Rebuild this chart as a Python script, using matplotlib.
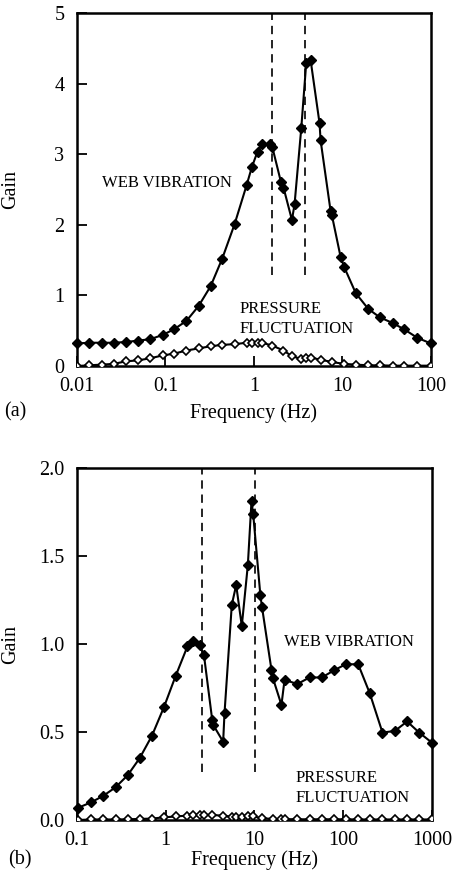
import matplotlib.pyplot as plt
import numpy as np

plt.rcParams['font.family'] = ['Liberation Serif', 'DejaVu Serif']

# ---- panel (a) data ----
freq_a = [0.01, 0.0137, 0.019, 0.026, 0.0355, 0.0489, 0.0674, 0.0929, 0.125,
          0.173, 0.237, 0.324, 0.438, 0.605, 0.826, 0.949, 1.10, 1.24, 1.54,
          1.61, 2.02, 2.16, 2.69, 2.88, 3.43, 3.90, 4.37, 5.52, 5.67, 7.35,
          7.60, 9.53, 10.5, 14.2, 19.6, 26.5, 36.9, 50.0, 70.2, 100]
web_a = [0.32, 0.33, 0.33, 0.33, 0.34, 0.36, 0.38, 0.44, 0.52,
         0.64, 0.85, 1.13, 1.52, 2.01, 2.56, 2.82, 3.04, 3.14, 3.14,
         3.11, 2.61, 2.53, 2.07, 2.29, 3.37, 4.29, 4.34, 3.44, 3.20, 2.20,
         2.14, 1.55, 1.40, 1.03, 0.81, 0.69, 0.61, 0.52, 0.40, 0.32]
freq_pa = [0.01, 0.0137, 0.019, 0.026, 0.0355, 0.0489, 0.0674, 0.0929, 0.125,
           0.173, 0.237, 0.324, 0.438, 0.605, 0.826, 0.949, 1.10, 1.24, 1.61,
           2.16, 2.69, 3.43, 3.90, 4.37, 5.67, 7.60, 10.5, 14.2, 19.6, 26.5,
           36.9, 50.0, 70.2, 100]
press_a = [0.0, 0.01, 0.02, 0.03, 0.066, 0.08, 0.11, 0.15, 0.175,
           0.22, 0.25, 0.28, 0.30, 0.31, 0.33, 0.33, 0.33, 0.33, 0.29,
           0.22, 0.14, 0.10, 0.11, 0.12, 0.09, 0.057, 0.03, 0.02, 0.01, 0.01,
           0.005, 0.005, 0.005, 0.005]
dash_a = [1.60, 3.74]

# ---- panel (b) data ----
freq_b = [0.104, 0.144, 0.198, 0.273, 0.373, 0.508, 0.700, 0.955, 1.30, 1.76,
          2.05, 2.43, 2.70, 3.35, 3.44, 4.45, 4.61, 5.57, 6.24, 7.22, 8.45,
          9.29, 9.70, 11.7, 12.2, 15.6, 16.2, 20.2, 21.9, 30.6, 41.9, 57.7,
          78.7, 107, 148, 200, 278, 383, 527, 720, 1000]
web_b = [0.07, 0.10, 0.137, 0.186, 0.254, 0.35, 0.478, 0.64, 0.82, 0.986,
         1.02, 0.993, 0.94, 0.569, 0.54, 0.445, 0.607, 1.223, 1.335, 1.103, 1.45,
         1.814, 1.74, 1.276, 1.21, 0.853, 0.806, 0.654, 0.796, 0.773, 0.81, 0.81,
         0.85, 0.885, 0.885, 0.72, 0.497, 0.506, 0.56, 0.497, 0.44]
freq_pb = [0.104, 0.144, 0.198, 0.273, 0.373, 0.508, 0.700, 0.955, 1.30, 1.76,
           2.05, 2.43, 2.70, 3.35, 4.45, 5.57, 6.24, 7.22, 8.45, 9.70, 12.2,
           16.2, 20.2, 21.9, 30.6, 41.9, 57.7, 78.7, 107, 148, 200, 278, 383,
           527, 720, 1000]
press_b = [0.0, 0.003, 0.003, 0.003, 0.004, 0.006, 0.008, 0.015, 0.02, 0.025,
           0.028, 0.03, 0.03, 0.028, 0.025, 0.018, 0.015, 0.018, 0.02, 0.02, 0.01,
           0.006, 0.005, 0.005, 0.004, 0.004, 0.004, 0.004, 0.004, 0.003, 0.003,
           0.003, 0.003, 0.003, 0.003, 0.003]
dash_b = [2.54, 10.2]

fig = plt.figure(figsize=(4.55, 8.82), dpi=100)
ax1 = fig.add_axes([0.169, 0.585, 0.778, 0.400])
ax2 = fig.add_axes([0.169, 0.0703, 0.780, 0.399])


def style(ax, xlim, ylim, yticks, fmt, xticks, xlabels, label_y):
    ax.set_xscale('log')
    ax.set_xlim(*xlim)
    ax.set_ylim(*ylim)
    ax.set_xticks(xticks)
    ax.set_xticklabels(xlabels)
    ax.xaxis.set_minor_locator(plt.NullLocator())
    ax.set_yticks(yticks)
    ax.set_yticklabels([fmt.format(v) for v in yticks])
    ax.tick_params(direction='in', length=7, width=1.3, labelsize=14.5)
    ax.tick_params(axis='x', pad=8)
    ax.tick_params(axis='y', pad=9)
    for s in ax.spines.values():
        s.set_linewidth(1.8)
    ax.set_xlabel('Frequency (Hz)', fontsize=14.5)
    ax.set_ylabel('Gain', fontsize=14.5)
    ax.xaxis.set_label_coords(0.5, label_y)
    ax.yaxis.set_label_coords(-0.161, 0.5)


def draw(ax, fw, w, fp, p, dashes, dash_lo, dash_hi):
    for d in dashes:
        ax.plot([d, d], [dash_lo, dash_hi], color='black', lw=1.2,
                ls=(0, (5, 3.5)), zorder=2)
    ax.plot(fp, p, color='black', lw=1.5, marker='D', ms=4.0,
            mfc='white', mec='black', mew=1.2, zorder=3)
    ax.plot(fw, w, color='black', lw=1.5, marker='D', ms=5.5,
            mfc='black', mec='black', zorder=4, clip_on=False)


draw(ax1, freq_a, web_a, freq_pa, press_a, dash_a, 1.29, 5.0)
style(ax1, (0.01, 100), (0, 5), [0, 1, 2, 3, 4, 5], '{:g}',
      [0.01, 0.1, 1, 10, 100], ['0.01', '0.1', '1', '10', '100'], -0.105)
ax1.text(0.019, 2.6, 'WEB VIBRATION', fontsize=12, va='center', ha='left')
ax1.text(0.68, 0.81, 'PRESSURE', fontsize=12, va='center', ha='left')
ax1.text(0.68, 0.53, 'FLUCTUATION', fontsize=12, va='center', ha='left')

draw(ax2, freq_b, web_b, freq_pb, press_b, dash_b, 0.275, 2.0)
style(ax2, (0.1, 1000), (0, 2.0), [0.0, 0.5, 1.0, 1.5, 2.0], '{:.1f}',
      [0.1, 1, 10, 100, 1000], ['0.1', '1', '10', '100', '1000'], -0.085)
ax2.text(21.7, 1.014, 'WEB VIBRATION', fontsize=12, va='center', ha='left')
ax2.text(29.4, 0.237, 'PRESSURE', fontsize=12, va='center', ha='left')
ax2.text(29.4, 0.123, 'FLUCTUATION', fontsize=12, va='center', ha='left')

fig.text(0.008, 1 - 412 / 882, '(a)', fontsize=14.5, va='center', ha='left')
fig.text(0.018, 1 - 860 / 882, '(b)', fontsize=14.5, va='center', ha='left')

fig.savefig('out.png', dpi=100)
